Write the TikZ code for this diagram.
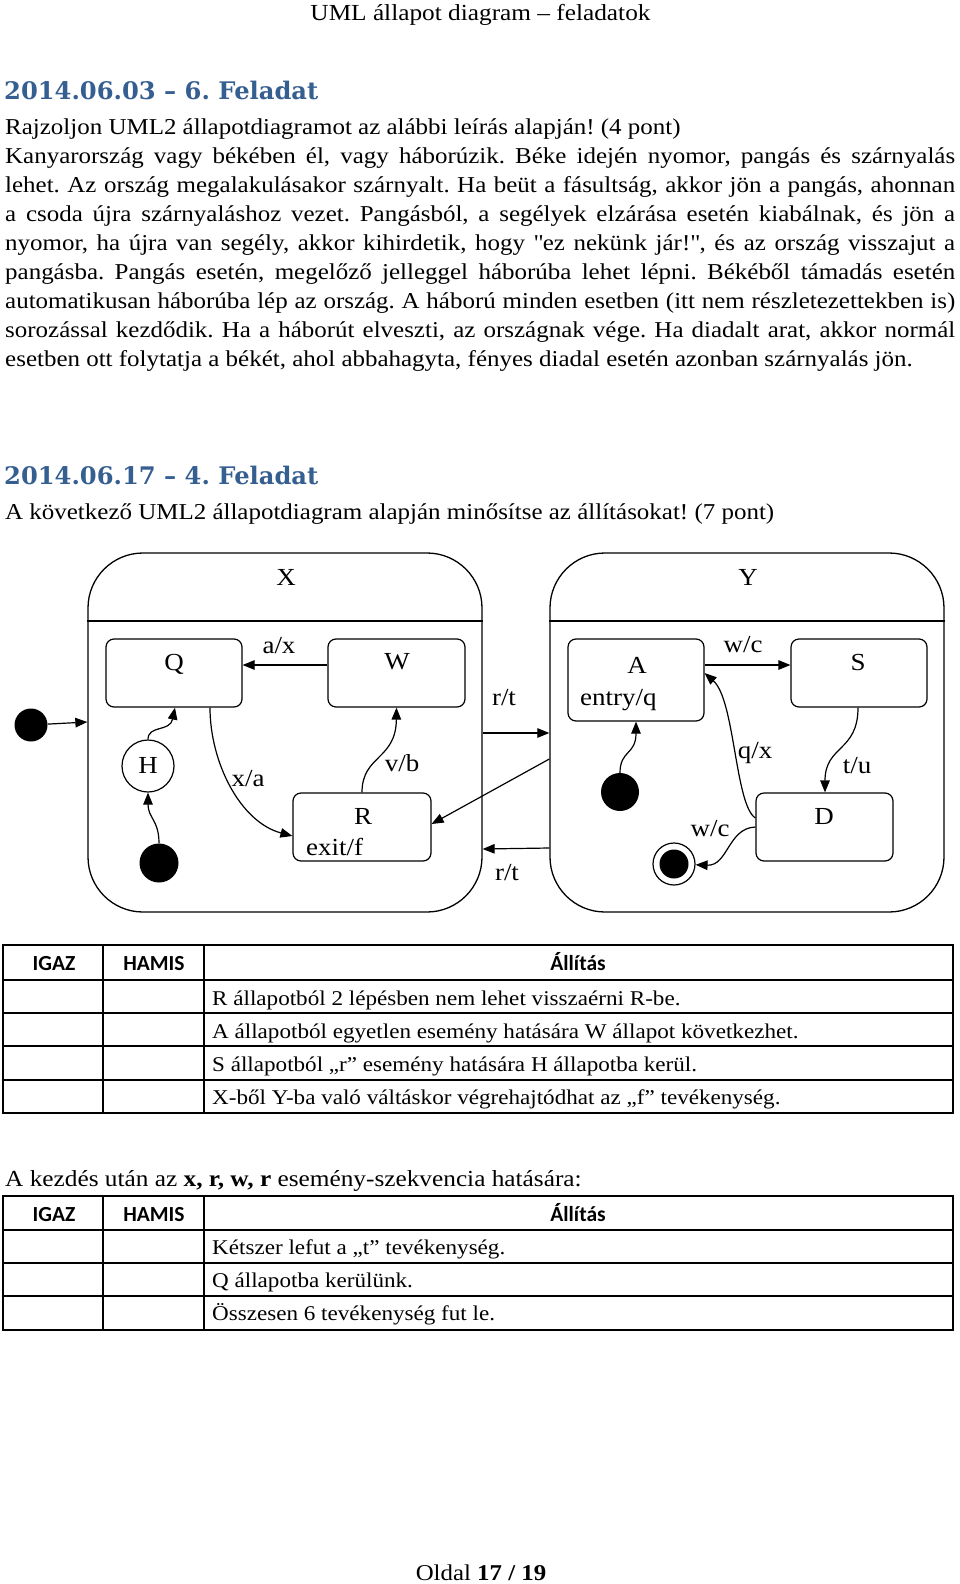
\documentclass[tikz,border=0pt]{standalone}
\usepackage{fontspec}
\setmainfont[FakeStretch=1.1]{Liberation Serif}
\newfontfamily\calibri{Carlito}
\newfontfamily\headfont{DejaVu Serif}
\usetikzlibrary{arrows.meta,calc}
\definecolor{headblue}{RGB}{54,95,145}
\frenchspacing
\begin{document}
\begin{tikzpicture}[x=1pt,y=-1pt,
  body/.style={anchor=base west,inner sep=0pt,font=\fontsize{22.7}{27}\selectfont},
  head/.style={anchor=base west,inner sep=0pt,text=headblue,font=\headfont\bfseries\fontsize{24.2}{29}\selectfont},
  tabh/.style={anchor=base,inner sep=0pt,font=\calibri\bfseries\fontsize{21.5}{26}\selectfont},
  tabt/.style={anchor=base west,inner sep=0pt,font=\fontsize{21}{25}\selectfont},
  comp/.style={draw,line width=1.3pt,rounded corners=55pt,inner sep=0pt,minimum width=394pt,minimum height=359pt},
  stbox/.style={draw,line width=1.2pt,rounded corners=8pt,inner sep=0pt},
  dlab/.style={anchor=base,inner sep=0pt,font=\fontsize{24.5}{29}\selectfont},
  dlabw/.style={anchor=base west,inner sep=0pt,font=\fontsize{24.5}{29}\selectfont},
  trans/.style={line width=1.2pt,-{Triangle[length=12pt,width=9.5pt]}},
  initdot/.style={circle,fill=black,inner sep=0pt,minimum size=#1},
  outer/.style={line width=2pt},
  inner/.style={line width=1.3pt}
]
\useasboundingbox (0,0) rectangle (960,1584);
\fill[white] (0,0) rectangle (960,1584);

% page header
\node[anchor=base,inner sep=0pt,font=\fontsize{23}{27}\selectfont] (pagehead) at (480.5,21) {UML állapot diagram -- feladatok};

% task 1
\node[head] (h1) at (4,100) {2014.06.03 – 6. Feladat};
\node[body] (l1) at (5,134.3) {Rajzoljon UML2 állapotdiagramot az alábbi leírás alapján! (4 pont)};
\node[body] (l2) at (5,163.3) {\makebox[950pt][s]{Kanyarország vagy békében él, vagy háborúzik. Béke idején nyomor, pangás és szárnyalás}};
\node[body] (l3) at (5,192.3) {\makebox[950pt][s]{lehet. Az ország megalakulásakor szárnyalt. Ha beüt a fásultság, akkor jön a pangás, ahonnan}};
\node[body] (l4) at (5,221.3) {\makebox[950pt][s]{a csoda újra szárnyaláshoz vezet. Pangásból, a segélyek elzárása esetén kiabálnak, és jön a}};
\node[body] (l5) at (5,250.3) {\makebox[950pt][s]{nyomor, ha újra van segély, akkor kihirdetik, hogy \textquotedbl ez nekünk jár!\textquotedbl, és az ország visszajut a}};
\node[body] (l6) at (5,279.3) {\makebox[950pt][s]{pangásba. Pangás esetén, megelőző jelleggel háborúba lehet lépni. Békéből támadás esetén}};
\node[body] (l7) at (5,308.3) {\makebox[950pt][s]{automatikusan háborúba lép az ország. A háború minden esetben (itt nem részletezettekben is)}};
\node[body] (l8) at (5,337.3) {\makebox[950pt][s]{sorozással kezdődik. Ha a háborút elveszti, az országnak vége. Ha diadalt arat, akkor normál}};
\node[body] (l9) at (5,366.3) {esetben ott folytatja a békét, ahol abbahagyta, fényes diadal esetén azonban szárnyalás jön.};

% task 2
\node[head] (h2) at (4,484) {2014.06.17 – 4. Feladat};
\node[body] (m1) at (5,519) {A következő UML2 állapotdiagram alapján minősítse az állításokat! (7 pont)};

% ---------- diagram ----------
\node[comp] (X) at (285,732.5) {};
\node[comp] (Y) at (747,732.5) {};
\draw[line width=1.3pt] (X.west |- 0,621) -- (X.east |- 0,621);
\draw[line width=1.3pt] (Y.west |- 0,621) -- (Y.east |- 0,621);
\node[dlab] (Xl) at (286,585) {X};
\node[dlab] (Yl) at (748,585) {Y};

\node[stbox,minimum width=136pt,minimum height=68pt] (Q) at (174,673) {};
\node[stbox,minimum width=137pt,minimum height=68pt] (W) at (396.5,673) {};
\node[stbox,minimum width=138pt,minimum height=68pt] (R) at (362,827) {};
\node[stbox,minimum width=136pt,minimum height=82pt] (A) at (636,680) {};
\node[stbox,minimum width=136pt,minimum height=68pt] (S) at (859,673) {};
\node[stbox,minimum width=137pt,minimum height=68pt] (D) at (824.5,827) {};
\node[circle,draw,line width=1.2pt,minimum size=52pt,inner sep=0pt] (H) at (148,766) {};
\node[initdot=33pt] (i0) at (31,725) {};
\node[initdot=39pt] (b0) at (159,863) {};
\node[initdot=38pt] (y0) at (620,792) {};
\node[circle,draw,line width=1.2pt,minimum size=42pt,inner sep=0pt] (fin) at (674,864) {};
\node[initdot=29pt] (finin) at (fin.center) {};

\node[dlab] (Qt) at (174,670) {Q};
\node[dlab] (Wt) at (397,669.5) {W};
\node[dlab] (Rt) at (363,824.3) {R};
\node[dlabw] (Rex) at (306,855) {exit/f};
\node[dlab] (Ht) at (148,773.3) {H};
\node[dlab] (At) at (637,673.3) {A};
\node[dlabw] (Aen) at (580,705.5) {entry/q};
\node[dlab] (St) at (858,670) {S};
\node[dlab] (Dt) at (824,824.3) {D};

% labels
\node[dlab] (lax) at (279,653) {a/x};
\node[dlab] (lxa) at (248,786.7) {x/a};
\node[dlab] (lvb) at (402,771.7) {v/b};
\node[dlab] (lrt1) at (504,705) {r/t};
\node[dlab] (lrt2) at (507,880) {r/t};
\node[dlab] (lwc1) at (743,652.3) {w/c};
\node[dlab] (lqx) at (755,758) {q/x};
\node[dlab] (ltu) at (857,773) {t/u};
\node[dlab] (lwc2) at (710,836.7) {w/c};

% transitions X
\draw[trans] (i0) -- (X.west |- 0,722);
\draw[trans] (W.west |- 0,665) -- (Q.east |- 0,665);
\draw[trans] (H.north) .. controls (148,725) and (170,732) .. (Q.south -| 175,0);
\draw[trans] (b0.north) .. controls (159,820) and (148,818) .. (H.south);
\draw[trans] (Q.south -| 210,0) .. controls (210,762) and (240,822) .. (R.west |- 0,836);
\draw[trans] (R.north) .. controls (362,755) and (396,760) .. (W.south -| 396.5,0);
% between X and Y
\draw[trans] (X.east |- 0,733) -- (Y.west |- 0,733);
\draw[trans] (Y.west |- 0,759) -- (R.east |- 0,824);
\draw[trans] (Y.west |- 0,848) -- (X.east |- 0,849);
% transitions Y
\draw[trans] (A.east |- 0,665) -- (S.west |- 0,665);
\draw[trans] (y0.north) .. controls (620,750) and (636,755) .. (A.south -| 636,0);
\draw[trans] (D.west |- 0,818) .. controls (735,805) and (735,700) .. (A.east |- 0,673);
\draw[trans] (S.south -| 858,0) .. controls (858,752) and (825,745) .. (D.north -| 825,0);
\draw[trans] (D.west |- 0,827) .. controls (728,828) and (728,866) .. (fin);

% ---------- table 1 ----------
\draw[inner] (103,945) -- (103,1113);
\draw[inner] (204,945) -- (204,1113);
\draw[line width=1.6pt] (3,980) -- (953,980);
\draw[inner] (3,1013) -- (953,1013);
\draw[inner] (3,1046) -- (953,1046);
\draw[inner] (3,1080) -- (953,1080);
\draw[outer] (3,945) rectangle (953,1113);
\node[tabh] (t1a) at (54,970.7) {IGAZ};
\node[tabh] (t1b) at (154,970.7) {HAMIS};
\node[tabh] (t1c) at (578,970.7) {Állítás};
\node[tabt] (t1r1) at (212,1005) {R állapotból 2 lépésben nem lehet visszaérni R-be.};
\node[tabt] (t1r2) at (212,1038) {A állapotból egyetlen esemény hatására W állapot következhet.};
\node[tabt] (t1r3) at (212,1071.5) {S állapotból „r” esemény hatására H állapotba kerül.};
\node[tabt] (t1r4) at (212,1104.5) {X-ből Y-ba való váltáskor végrehajtódhat az „f” tevékenység.};

% ---------- table 2 ----------
\node[anchor=base west,inner sep=0pt,font=\fontsize{23}{27}\selectfont] (q2) at (5,1186.7) {A kezdés után az \textbf{x, r, w, r} esemény-szekvencia hatására:};
\draw[inner] (103,1196) -- (103,1330);
\draw[inner] (204,1196) -- (204,1330);
\draw[line width=1.6pt] (3,1230) -- (953,1230);
\draw[inner] (3,1263) -- (953,1263);
\draw[inner] (3,1296) -- (953,1296);
\draw[outer] (3,1196) rectangle (953,1330);
\node[tabh] (t2a) at (54,1221) {IGAZ};
\node[tabh] (t2b) at (154,1221) {HAMIS};
\node[tabh] (t2c) at (578,1221) {Állítás};
\node[tabt] (t2r1) at (212,1254) {Kétszer lefut a „t” tevékenység.};
\node[tabt] (t2r2) at (212,1287) {Q állapotba kerülünk.};
\node[tabt] (t2r3) at (212,1320) {Összesen 6 tevékenység fut le.};

% footer
\node[anchor=base,inner sep=0pt,font=\fontsize{22.6}{27}\selectfont] (foot) at (481,1580) {Oldal \textbf{17 / 19}};
\end{tikzpicture}
\end{document}
